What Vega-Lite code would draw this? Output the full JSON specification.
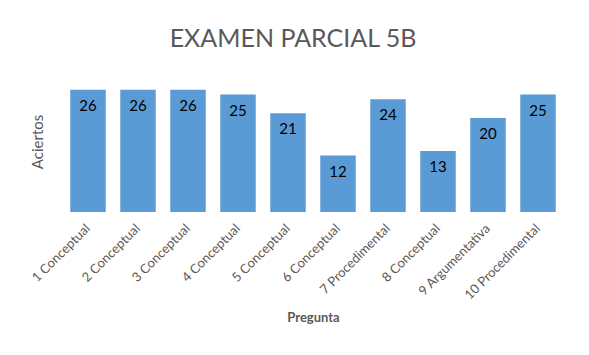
{
  "$schema": "https://vega.github.io/schema/vega-lite/v6.json",
  "width": 500,
  "height": 141,
  "autosize": {"type": "none"},
  "padding": {"left": 63, "top": 71, "right": 26, "bottom": 143},
  "background": "white",
  "title": {
    "text": "EXAMEN PARCIAL 5B",
    "font": "Lato",
    "fontSize": 25,
    "fontWeight": "normal",
    "color": "#595959",
    "baseline": "alphabetic",
    "offset": -1,
    "dx": -20,
    "anchor": "middle"
  },
  "data": {
    "values": [
      {"pregunta": "1 Conceptual", "aciertos": 26},
      {"pregunta": "2 Conceptual", "aciertos": 26},
      {"pregunta": "3 Conceptual", "aciertos": 26},
      {"pregunta": "4 Conceptual", "aciertos": 25},
      {"pregunta": "5 Conceptual", "aciertos": 21},
      {"pregunta": "6 Conceptual", "aciertos": 12},
      {"pregunta": "7 Procedimental", "aciertos": 24},
      {"pregunta": "8 Conceptual", "aciertos": 13},
      {"pregunta": "9 Argumentativa", "aciertos": 20},
      {"pregunta": "10 Procedimental", "aciertos": 25}
    ]
  },
  "encoding": {
    "x": {
      "field": "pregunta",
      "type": "nominal",
      "sort": null,
      "scale": {"paddingInner": 0.29, "paddingOuter": 0.145},
      "axis": {
        "title": "Pregunta",
        "titleFont": "Lato",
        "titleFontSize": 13,
        "titleFontWeight": "bold",
        "titleColor": "#595959",
        "titlePadding": 10,
        "labelAngle": -45,
        "labelAlign": "right",
        "labelBaseline": "middle",
        "labelFont": "Lato",
        "labelFontSize": 13,
        "labelColor": "#595959",
        "labelPadding": 14,
        "ticks": false,
        "domain": false,
        "grid": false
      }
    },
    "y": {
      "field": "aciertos",
      "type": "quantitative",
      "scale": {"domain": [0, 30]},
      "axis": {
        "title": "Aciertos",
        "titleFont": "Lato",
        "titleFontSize": 15,
        "titleFontWeight": "normal",
        "titleColor": "#595959",
        "titlePadding": 18,
        "labels": false,
        "ticks": false,
        "domain": false,
        "grid": false
      }
    }
  },
  "layer": [
    {"mark": {"type": "bar", "color": "#5B9BD5"}},
    {
      "mark": {
        "type": "text",
        "baseline": "top",
        "dy": 9,
        "font": "Lato",
        "fontSize": 15,
        "color": "#000000"
      },
      "encoding": {"text": {"field": "aciertos", "type": "quantitative"}}
    }
  ],
  "config": {"view": {"stroke": null}}
}
